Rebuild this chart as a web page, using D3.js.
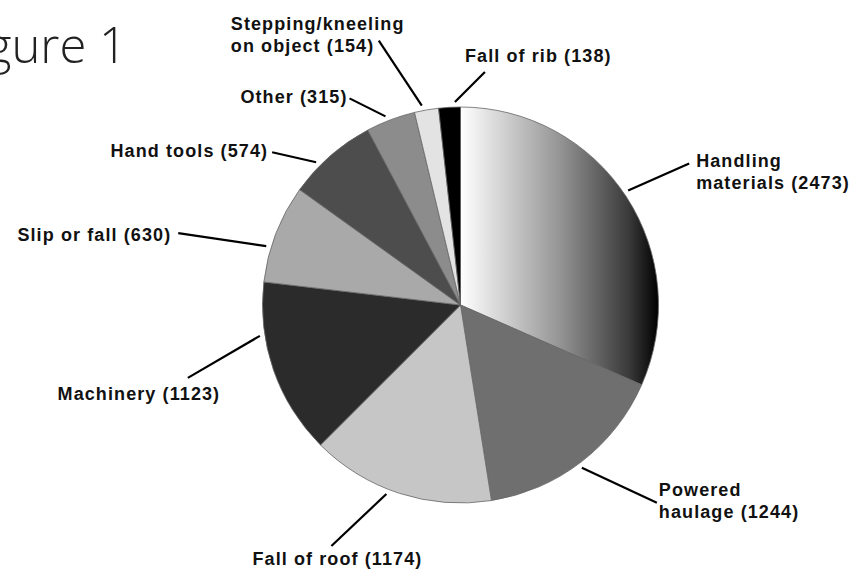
<!DOCTYPE html>
<html>
<head>
<meta charset="utf-8">
<script src="https://cdn.jsdelivr.net/npm/d3@7"></script>
<style>
	body { margin: 0; background: #fff; }
	.lbl { font-family: "Liberation Sans Narrow", "Liberation Sans", sans-serif; font-weight: bold; font-size: 18px; letter-spacing: 1.1px; fill: #111; }
	.title { font-family: "Open Sans", "Noto Sans", sans-serif; font-weight: 300; font-size: 49px; fill: #222; }
</style>
</head>
<body>
<svg id="chart" width="856" height="569"></svg>
<script>
// slices, clockwise from 12 o'clock
var categories = ["Handling materials", "Powered haulage", "Fall of roof", "Machinery", "Slip or fall",
	"Hand tools", "Other", "Stepping/kneeling on object", "Fall of rib"];
var counts = [2473, 1244, 1174, 1123, 630, 574, 315, 154, 138];
var labelLines = [
	["Handling", "materials (2473)"],
	["Powered", "haulage (1244)"],
	["Fall of roof (1174)"],
	["Machinery (1123)"],
	["Slip or fall (630)"],
	["Hand tools (574)"],
	["Other (315)"],
	["Stepping/kneeling", "on object (154)"],
	["Fall of rib (138)"]
];
var fills = ["url(#hm-grad)", "#6f6f6f", "#c6c6c6", "#2b2b2b", "#a9a9a9", "#4d4d4d", "#8c8c8c", "#e3e3e3", "#000"];

// leader/label layout: angle tweak (deg), leader end and text offset from the slice edge point
var labelLayout = [
	{da: -1.2, end: [61, -27], txt: [68, -24], anchor: "start"},
	{da: 0.9, end: [75, 35], txt: [77, 28], anchor: "start"},
	{da: 3.4, end: [-55, 52], txt: [-49, 71], anchor: "middle"},
	{da: 10.4, end: [-72, 42], txt: [-121, 64], anchor: "middle"},
	{da: -4.3, end: [-88, -13], txt: [-95, -5], anchor: "end"},
	{da: -4.2, end: [-44, -10], txt: [-48, -5], anchor: "end"},
	{da: -1, end: [-36, -18], txt: [-38, -13], anchor: "end"},
	{da: -1.1, end: [-43, -65], txt: [-191, -76], anchor: "start"},
	{da: 1.6, end: [30, -30], txt: [10, -40], anchor: "start"}
];

var cx = 460.5, cy = 305, radius = 198;

var svg = d3.select("#chart");

var defs = svg.append("defs");
var grad = defs.append("linearGradient")
	.attr("id", "hm-grad")
	.attr("gradientUnits", "userSpaceOnUse")
	.attr("x1", 0).attr("y1", 0)
	.attr("x2", radius).attr("y2", 0);
grad.append("stop").attr("offset", "0").attr("stop-color", "#ffffff");
grad.append("stop").attr("offset", "0.5").attr("stop-color", "#959595");
grad.append("stop").attr("offset", "0.85").attr("stop-color", "#3a3a3a");
grad.append("stop").attr("offset", "1").attr("stop-color", "#000000");

svg.append("text")
	.attr("class", "title")
	.attr("x", 127)
	.attr("y", 63)
	.attr("text-anchor", "end")
	.text("Figure 1");

var pie = d3.pie().sort(null).value(function(d) { return d; });
var arcs = pie(counts);

var arc = d3.arc().innerRadius(0).outerRadius(radius);

var g = svg.append("g")
	.attr("transform", "translate(" + cx + "," + cy + ")");

g.selectAll(".slice")
	.data(arcs)
	.enter().append("path")
	.attr("class", "slice")
	.attr("d", arc)
	.attr("fill", function(d, i) { return fills[i]; })
	.attr("stroke", "#666")
	.attr("stroke-width", 0.8);

var labels = g.selectAll(".label")
	.data(arcs)
	.enter().append("g")
	.attr("class", "label")
	.each(function(d, i) {
		var lay = labelLayout[i];
		var a = (d.startAngle + d.endAngle) / 2 + lay.da * Math.PI / 180;
		var r = radius + 5;
		var x0 = Math.sin(a) * r, y0 = -Math.cos(a) * r;
		var sel = d3.select(this);
		sel.append("line")
			.attr("x1", x0).attr("y1", y0)
			.attr("x2", x0 + lay.end[0]).attr("y2", y0 + lay.end[1])
			.attr("stroke", "#000")
			.attr("stroke-width", 2.2);
		var t = sel.append("text")
			.attr("class", "lbl")
			.attr("text-anchor", lay.anchor)
			.attr("x", x0 + lay.txt[0])
			.attr("y", y0 + lay.txt[1]);
		labelLines[i].forEach(function(s, k) {
			t.append("tspan")
				.attr("x", x0 + lay.txt[0])
				.attr("dy", k === 0 ? 0 : 22)
				.text(s);
		});
	});
</script>
</body>
</html>
